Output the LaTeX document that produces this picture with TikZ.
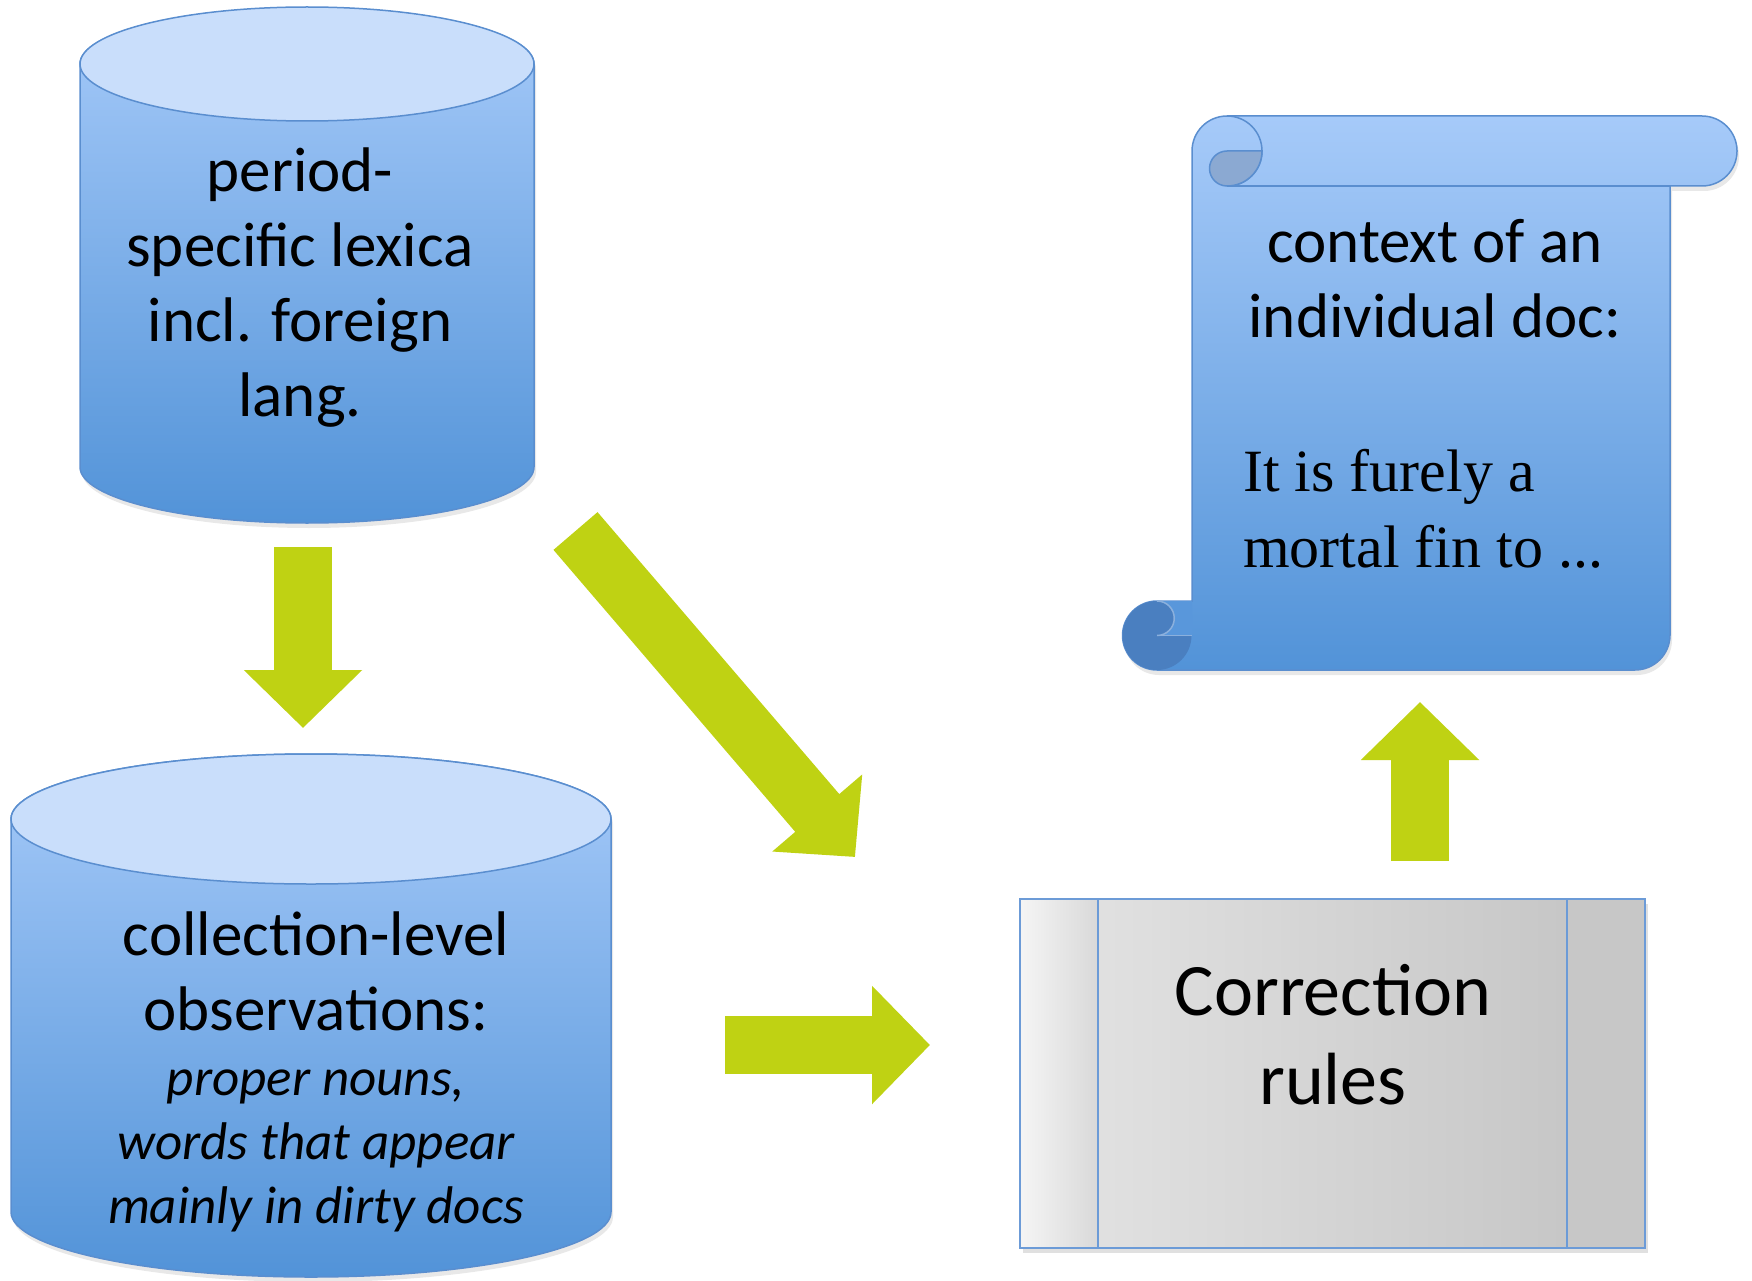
\documentclass[tikz,border=0pt]{standalone}
\usepackage{fontspec}
\setmainfont{Carlito}
\newfontfamily\quotefont{Liberation Serif}
\usepackage{tikz}
\usetikzlibrary{arrows.meta,shadows}
\definecolor{tanktop}{HTML}{A6CAF9}
\definecolor{tankbot}{HTML}{5293D8}
\definecolor{tanklid}{HTML}{C9DEFB}
\definecolor{tankline}{HTML}{5A8ECF}
\definecolor{curllight}{HTML}{8BA9D2}
\definecolor{curldark}{HTML}{4A7FC0}
\definecolor{flowgreen}{HTML}{BFD213}
\definecolor{rulesline}{HTML}{6C9BD7}
\tikzstyle{flow} = [draw=flowgreen,line width=58pt,-{Triangle[length=58pt,width=115pt]}]
\tikzstyle{tank} = [draw=tankline,line width=1.5pt,top color=tanktop,bottom color=tankbot,
  drop shadow={shadow xshift=2pt,shadow yshift=-5pt,opacity=0.18}]
\tikzstyle{lid} = [draw=tankline,line width=1.5pt,fill=tanklid]
\tikzstyle{curl} = [draw=tankline,line width=1.5pt]
\tikzstyle{big} = [inner sep=0,align=center,font=\fontsize{63}{75}\selectfont]

\begin{document}
\begin{tikzpicture}[x=1pt,y=1pt,
  note/.style={inner sep=0,align=center,font=\itshape\fontsize{53}{64}\selectfont},
  quote/.style={inner sep=0,align=left,font=\quotefont\fontsize{60}{76}\selectfont}]

    \useasboundingbox (0,0) rectangle (1752,-1281);

    % lexica cylinder
    \path[tank] (80,-64) -- (80,-467) arc[start angle=180,end angle=360,x radius=227,y radius=56]
      -- (534,-64) arc[start angle=0,end angle=180,x radius=227,y radius=56] -- cycle;
    \path[lid] (307,-64) ellipse [x radius=227,y radius=57];

    % observations cylinder
    \path[tank] (11,-819) -- (11,-1212) arc[start angle=180,end angle=360,x radius=300,y radius=65]
      -- (611,-819) arc[start angle=0,end angle=180,x radius=300,y radius=65] -- cycle;
    \path[lid] (311,-819) ellipse [x radius=300,y radius=65];

    % scroll
    \path[tank] (1192,-601) -- (1192,-151) arc[start angle=180,end angle=90,radius=35]
      -- (1702,-116) arc[start angle=90,end angle=-90,radius=35] -- (1670,-186)
      -- (1670,-635) arc[start angle=0,end angle=-90,radius=35] -- (1157,-670)
      arc[start angle=270,end angle=90,radius=34.5] -- cycle;
    \draw[curl] (1670,-186) -- (1227,-186);
    \draw[curl] (1227,-116) arc[start angle=90,end angle=-90,radius=35];
    \filldraw[curl,fill=curllight] (1227,-151) -- (1262,-151) arc[start angle=0,end angle=-90,radius=35]
      arc[start angle=270,end angle=90,radius=17.5] -- cycle;
    \fill[curldark] (1157,-635.5) circle[radius=34.5];
    \fill[tankbot!92!tanktop] (1157,-601) -- (1192,-601) -- (1192,-635.5) -- (1157,-635.5)
      arc[start angle=-90,end angle=90,radius=17.25] -- cycle;
    \draw[curl,draw=tankline!70] (1157,-635.5) arc[start angle=-90,end angle=90,radius=17.25];
    \draw[curl,draw=tankline!70] (1157,-635.5) -- (1192,-635.5);

    % rules box
    \fill[black,opacity=0.12] (1023,-904) rectangle (1648,-1253);
    \shade[left color=black!4,right color=black!15] (1020,-899) rectangle (1098,-1248);
    \shade[left color=black!12,middle color=black!20,right color=black!22] (1098,-899) rectangle (1567,-1248);
    \fill[black!22] (1567,-899) rectangle (1645,-1248);
    \draw[rulesline,line width=1.5pt] (1020,-899) rectangle (1645,-1248);
    \draw[rulesline,line width=1.5pt] (1098,-899) -- (1098,-1248);
    \draw[rulesline,line width=1.5pt] (1567,-899) -- (1567,-1248);

    \node[big] (lex) at (300,-288) {period-\\specific lexica\\incl. foreign\\lang.};
    \node[big] (obs) at (316,-971) {collection-level\\observations:};
    \node[note] (obsnote) at (316,-1151) {proper nouns,\\words that appear\\mainly in dirty docs};
    \node[big] (ctx) at (1435,-279) {context of an\\individual doc:};
    \node[quote,anchor=west] (ctxquote) at (1243,-509) {It is furely a\\mortal fin to ...};
    \node[inner sep=0,align=center,font=\fontsize{74}{89}\selectfont] (rules) at (1333,-1035) {Correction\\rules};

    \coordinate (lexout) at (303,-547);
    \coordinate (obsin) at (303,-728);
    \coordinate (lexdiag) at (575.5,-531);
    \coordinate (rulesdiag) at (855,-857);
    \coordinate (obsout) at (725,-1045);
    \coordinate (rulesin) at (930,-1045);
    \coordinate (rulesout) at (1420,-861);
    \coordinate (ctxin) at (1420,-702);

    \draw[flow] (lexout) -- (obsin);
    \draw[flow] (lexdiag) -- (rulesdiag);
    \draw[flow] (obsout) -- (rulesin);
    \draw[flow] (rulesout) -- (ctxin);

\end{tikzpicture}
\end{document}
